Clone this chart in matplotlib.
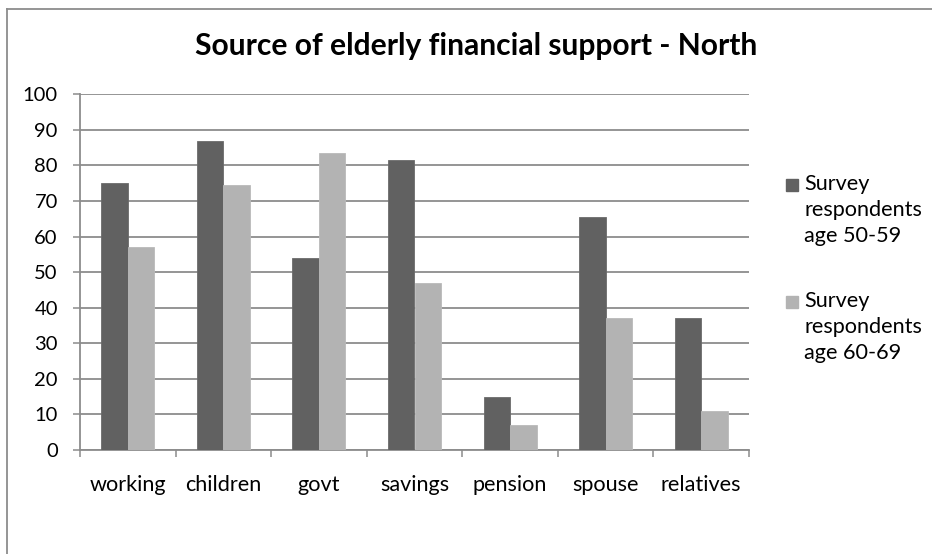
import numpy as np
import matplotlib
matplotlib.use('Agg')
import matplotlib.pyplot as plt
from matplotlib.lines import Line2D
from matplotlib.patches import Rectangle

categories = ['working', 'children', 'govt', 'savings', 'pension', 'spouse', 'relatives']
age_50_59 = [75, 87, 54, 81.5, 15, 65.5, 37]
age_60_69 = [57, 74.5, 83.5, 47, 7, 37, 11]
series_labels = ['Survey\nrespondents\nage 50-59', 'Survey\nrespondents\nage 60-69']
yticks = list(range(0, 101, 10))
title = 'Source of elderly financial support - North'

W, H = 932, 554
dark = '#616161'
light = '#b3b3b3'
grey = '#8c8c8c'

plt.rcParams['font.family'] = ['Lato', 'DejaVu Sans']


def fx(px):
    return px / W


def fy(py):
    return 1 - py / H


fig = plt.figure(figsize=(W / 100, H / 100), dpi=100)

# chart frame (only left and top edges show)
fig.add_artist(Line2D([fx(7), fx(7)], [fy(9), 0], color=grey, lw=1.3))
fig.add_artist(Line2D([fx(7), 1], [fy(9), fy(9)], color=grey, lw=1.3))

fig.text(fx(476), fy(55), title, ha='center', va='baseline',
         fontsize=21.6, fontweight='bold')

ax = fig.add_axes([fx(80), fy(450), fx(749) - fx(80), fy(94.3) - fy(450)])
x = np.arange(len(categories))
w = 0.278
ax.bar(x - w / 2, age_50_59, w, color=dark, edgecolor='#6b6b6b', linewidth=0.6, zorder=3)
ax.bar(x + w / 2, age_60_69, w, color=light, edgecolor='#bababa', linewidth=0.6, zorder=3)

ax.set_xlim(-0.5, len(categories) - 0.5)
ax.set_ylim(0, 100)
ax.set_yticks(yticks)
ax.set_xticks(np.arange(len(categories) + 1) - 0.5)
ax.set_xticklabels([])
ax.set_xticks(x, categories, minor=True)

ax.tick_params(axis='y', length=5, width=1.1, color=grey, pad=11, labelsize=14.5)
ax.tick_params(axis='x', which='major', length=5, width=1.1, color=grey)
ax.tick_params(axis='x', which='minor', length=0, pad=18, labelsize=15.6)

ax.yaxis.grid(True, color=grey, lw=1.3)
ax.set_axisbelow(True)
for s in ['top', 'right']:
    ax.spines[s].set_visible(False)
for s in ['left', 'bottom']:
    ax.spines[s].set_color(grey)
    ax.spines[s].set_linewidth(1.3)

# legend, square aligned with the first line of each label
for i, (lab, col) in enumerate(zip(series_labels, [dark, light])):
    top = 174 + i * 117
    fig.add_artist(Rectangle((fx(786), fy(top + 17)), fx(798) - fx(786), fy(top + 5) - fy(top + 17),
                             transform=fig.transFigure, color=col))
    fig.text(fx(804), fy(top), lab, ha='left', va='top', fontsize=15.6, linespacing=1.38)

fig.savefig('out.png', dpi=100)
